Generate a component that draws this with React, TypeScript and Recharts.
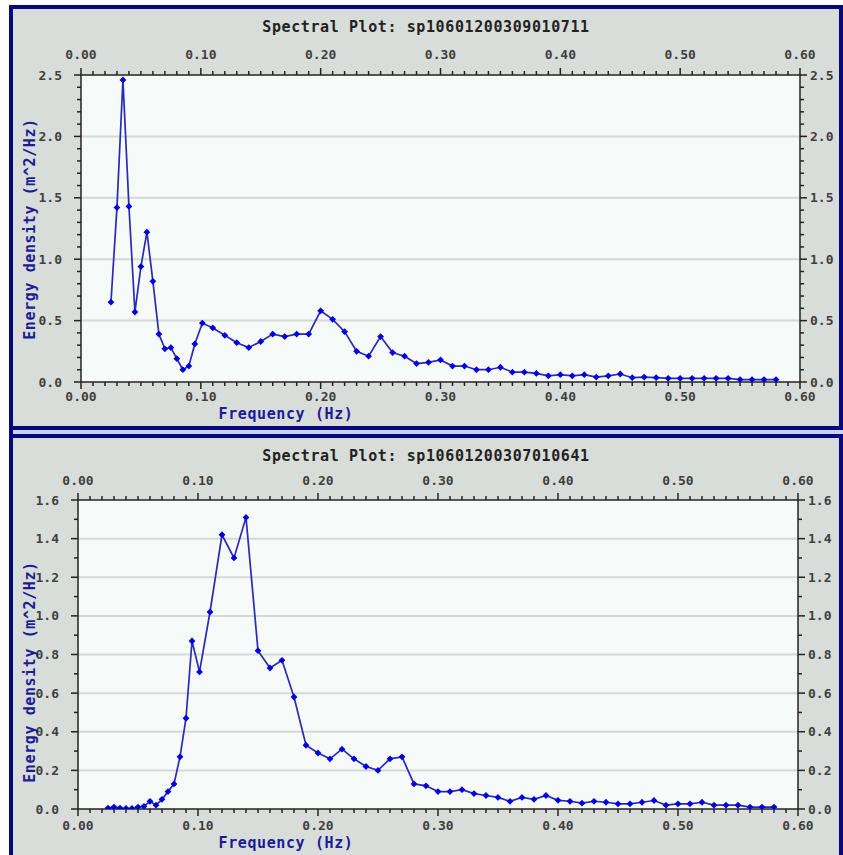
import { LineChart, Line, XAxis, YAxis, CartesianGrid } from "recharts"

const FONT = "'DejaVu Sans Mono', monospace"

// CDIP 64-band frequencies (Hz)
const frequencies = [
  0.025, 0.03, 0.035, 0.04, 0.045, 0.05, 0.055, 0.06, 0.065, 0.07, 0.075, 0.08, 0.085, 0.09, 0.095,
  0.10125, 0.11, 0.12, 0.13, 0.14, 0.15, 0.16, 0.17, 0.18, 0.19, 0.2, 0.21, 0.22, 0.23, 0.24, 0.25,
  0.26, 0.27, 0.28, 0.29, 0.3, 0.31, 0.32, 0.33, 0.34, 0.35, 0.36, 0.37, 0.38, 0.39, 0.4, 0.41, 0.42,
  0.43, 0.44, 0.45, 0.46, 0.47, 0.48, 0.49, 0.5, 0.51, 0.52, 0.53, 0.54, 0.55, 0.56, 0.57, 0.58,
]

const energyTop = [
  0.65, 1.42, 2.46, 1.43, 0.57, 0.94, 1.22, 0.82, 0.39, 0.27, 0.28, 0.19, 0.1, 0.13, 0.31,
  0.48, 0.44, 0.38, 0.32, 0.28, 0.33, 0.39, 0.37, 0.39, 0.39, 0.58, 0.51, 0.41, 0.25, 0.21, 0.37,
  0.24, 0.21, 0.15, 0.16, 0.18, 0.13, 0.13, 0.1, 0.1, 0.12, 0.08, 0.08, 0.07, 0.05, 0.06, 0.05, 0.06,
  0.04, 0.05, 0.065, 0.035, 0.04, 0.035, 0.03, 0.03, 0.03, 0.03, 0.03, 0.03, 0.02, 0.02, 0.02, 0.02,
]

const energyBottom = [
  0.005, 0.01, 0.005, 0.003, 0.003, 0.01, 0.014, 0.04, 0.02, 0.05, 0.09, 0.13, 0.27, 0.47, 0.87,
  0.71, 1.02, 1.42, 1.3, 1.51, 0.82, 0.73, 0.77, 0.58, 0.33, 0.29, 0.26, 0.31, 0.26, 0.22, 0.2,
  0.26, 0.27, 0.13, 0.12, 0.09, 0.09, 0.1, 0.08, 0.07, 0.06, 0.04, 0.06, 0.05, 0.07, 0.045, 0.04, 0.03,
  0.04, 0.035, 0.027, 0.027, 0.035, 0.044, 0.02, 0.027, 0.027, 0.035, 0.02, 0.02, 0.02, 0.01, 0.01, 0.01,
]

const xLabels = [0, 0.1, 0.2, 0.3, 0.4, 0.5, 0.6]
const yLabelsTop = [0, 0.5, 1.0, 1.5, 2.0, 2.5]
const yLabelsBottom = [0, 0.2, 0.4, 0.6, 0.8, 1.0, 1.2, 1.4, 1.6]

// minor tick marks (decoration only)
const xMinor = Array.from({ length: 61 }, (_, i) => i / 100)
const yMinorTop = Array.from({ length: 26 }, (_, i) => i / 10)
const yMinorBottom = Array.from({ length: 17 }, (_, i) => i / 10)

const textStyle = { fill: "#404040", fontSize: 13, fontWeight: 700, fontFamily: FONT }

function makeTick(side: string, labels: number[], digits: number, gap: number) {
  return function Tick(props: any) {
    const { x, y, payload } = props
    const v = payload.value
    const major = labels.some((l) => Math.abs(l - v) < 1e-6)
    const len = major ? 7 : 4
    const label = major ? v.toFixed(digits) : null
    if (side === "bottom" || side === "top") {
      const s = side === "bottom" ? 1 : -1
      return (
        <g>
          <line x1={x} y1={y} x2={x} y2={y + s * len} stroke="#222" strokeWidth={1.5} />
          {label && (
            <text x={x} y={y + s * gap} textAnchor="middle" dominantBaseline="central" {...textStyle}>
              {label}
            </text>
          )}
        </g>
      )
    }
    const s = side === "right" ? 1 : -1
    return (
      <g>
        <line x1={x} y1={y} x2={x + s * len} y2={y} stroke="#222" strokeWidth={1.5} />
        {label && (
          <text
            x={x + s * gap}
            y={y}
            textAnchor={side === "right" ? "start" : "end"}
            dominantBaseline="central"
            {...textStyle}
          >
            {label}
          </text>
        )}
      </g>
    )
  }
}

function Diamond(props: any) {
  const { cx, cy, index } = props
  if (cx == null || cy == null) return null
  return (
    <path
      key={`dot-${index}`}
      d={`M${cx},${cy - 3.4} L${cx + 3.4},${cy} L${cx},${cy + 3.4} L${cx - 3.4},${cy} Z`}
      fill="#0000e0"
    />
  )
}

interface PanelProps {
  top: number
  title: string
  values: number[]
  yMax: number
  yLabels: number[]
  yMinor: number[]
  yDigits: number
  margin: { top: number; right: number; bottom: number; left: number }
  yTitleY: number
  topGap: number
  bottomGap: number
}

function Panel(p: PanelProps) {
  const rows = frequencies.map((f, i) => ({ f, e: p.values[i] }))
  const grid = p.yLabels.filter((v) => v > 0 && v < p.yMax)
  const titleStyle = {
    position: "absolute" as const,
    fontFamily: FONT,
    fontWeight: 700,
    fontSize: 15,
    letterSpacing: 0.6,
    whiteSpace: "nowrap" as const,
    lineHeight: "18px",
  }
  return (
    <div
      style={{
        position: "absolute",
        left: 9,
        top: p.top,
        width: 834,
        height: 425,
        boxSizing: "border-box",
        border: "4px solid #08087e",
        background: "#d9ddda",
      }}
    >
      <div style={{ ...titleStyle, left: 0, width: 826, top: 9, textAlign: "center", color: "#222" }}>
        {p.title}
      </div>
      <div style={{ position: "absolute", left: 0, top: 0 }}>
        <LineChart width={826} height={417} data={rows} margin={p.margin}>
          <CartesianGrid
            vertical={false}
            horizontalValues={grid}
            stroke="#d6d8d6"
            strokeWidth={2}
            fill="#f6faf8"
            xAxisId="bottom"
            yAxisId="left"
          />
          <XAxis
            xAxisId="bottom"
            dataKey="f"
            type="number"
            domain={[0, 0.6]}
            ticks={xMinor}
            interval={0}
            height={30}
            tickSize={0}
            tickMargin={0}
            axisLine={{ stroke: "#222", strokeWidth: 1.5 }}
            tickLine={false}
            tick={makeTick("bottom", xLabels, 2, p.bottomGap)}
            allowDataOverflow
          />
          <XAxis
            xAxisId="top"
            orientation="top"
            dataKey="f"
            type="number"
            domain={[0, 0.6]}
            ticks={xMinor}
            interval={0}
            height={30}
            tickSize={0}
            tickMargin={0}
            axisLine={{ stroke: "#222", strokeWidth: 1.5 }}
            tickLine={false}
            tick={makeTick("top", xLabels, 2, p.topGap)}
            allowDataOverflow
          />
          <YAxis
            yAxisId="left"
            type="number"
            domain={[0, p.yMax]}
            ticks={p.yMinor}
            interval={0}
            width={40}
            tickSize={0}
            tickMargin={0}
            axisLine={{ stroke: "#222", strokeWidth: 1.5 }}
            tickLine={false}
            tick={makeTick("left", p.yLabels, p.yDigits, 19)}
            allowDataOverflow
          />
          <YAxis
            yAxisId="right"
            orientation="right"
            type="number"
            domain={[0, p.yMax]}
            ticks={p.yMinor}
            interval={0}
            width={34}
            tickSize={0}
            tickMargin={0}
            axisLine={{ stroke: "#222", strokeWidth: 1.5 }}
            tickLine={false}
            tick={makeTick("right", p.yLabels, p.yDigits, 10)}
            allowDataOverflow
          />
          <Line
            xAxisId="top"
            yAxisId="right"
            dataKey="e"
            stroke="none"
            dot={false}
            activeDot={false}
            isAnimationActive={false}
          />
          <Line
            xAxisId="bottom"
            yAxisId="left"
            dataKey="e"
            type="linear"
            stroke="#2a2ab6"
            strokeWidth={1.7}
            dot={Diamond}
            activeDot={false}
            isAnimationActive={false}
          />
        </LineChart>
      </div>
      <div
        style={{
          ...titleStyle,
          left: 273,
          top: 396,
          transform: "translateX(-50%)",
          color: "#1c1c96",
        }}
      >
        Frequency (Hz)
      </div>
      <div
        style={{
          ...titleStyle,
          left: 17,
          top: p.yTitleY - 9,
          transform: "translateX(-50%) rotate(-90deg)",
          transformOrigin: "50% 50%",
          color: "#1c1c96",
        }}
      >
        Energy density (m^2/Hz)
      </div>
    </div>
  )
}

export default function App() {
  return (
    <div style={{ position: "absolute", left: 0, top: 0, width: 843, height: 855, background: "#fff", overflow: "hidden" }}>
      <Panel
        top={5}
        title="Spectral Plot: sp10601200309010711"
        values={energyTop}
        yMax={2.5}
        yLabels={yLabelsTop}
        yMinor={yMinorTop}
        yDigits={1}
        margin={{ top: 36, right: 5, bottom: 14, left: 28 }}
        yTitleY={220}
        topGap={21}
        bottomGap={14}
      />
      <div style={{ position: "absolute", left: 9, top: 430, width: 834, height: 4, boxSizing: "border-box", background: "#cfd2ee", borderLeft: "4px solid #08087e" }} />
      <Panel
        top={434}
        title="Spectral Plot: sp10601200307010641"
        values={energyBottom}
        yMax={1.6}
        yLabels={yLabelsBottom}
        yMinor={yMinorBottom}
        yDigits={1}
        margin={{ top: 32, right: 7, bottom: 16, left: 25 }}
        yTitleY={234}
        topGap={20}
        bottomGap={16}
      />
    </div>
  )
}
